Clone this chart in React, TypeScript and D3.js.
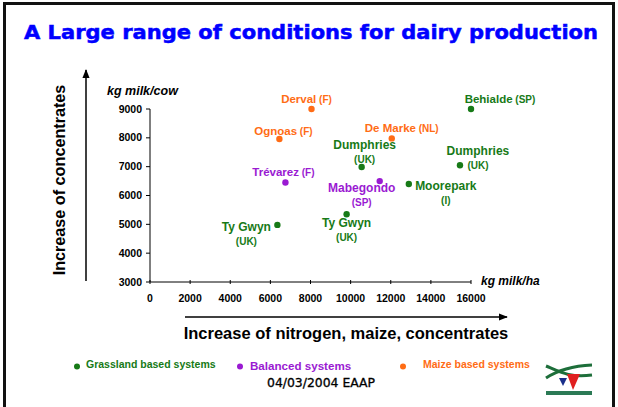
import * as d3 from 'd3';

const W = 618;
const H = 407;

// farms: name, country, system, kg milk/ha, kg milk/cow
const farmNames = ['Derval', 'Ognoas', 'Trévarez', 'Ty Gwyn', 'Behialde', 'De Marke', 'Dumphries', 'Dumphries', 'Mabegondo', 'Moorepark', 'Ty Gwyn'];
const farmCountries = ['(F)', '(F)', '(F)', '(UK)', '(SP)', '(NL)', '(UK)', '(UK)', '(SP)', '(I)', '(UK)'];
const farmSystems = ['maize', 'maize', 'balanced', 'grass', 'grass', 'maize', 'grass', 'grass', 'balanced', 'grass', 'grass'];
const milkPerHa = [8050, 6450, 6750, 6350, 16000, 12050, 10550, 15450, 11450, 12900, 9800];
const milkPerCow = [9000, 7960, 6450, 4980, 9000, 7980, 6990, 7050, 6500, 6400, 5350];

const xTicks = [0, 2000, 4000, 6000, 8000, 10000, 12000, 14000, 16000];
const yTicks = [3000, 4000, 5000, 6000, 7000, 8000, 9000];

const systemKeys = ['grass', 'balanced', 'maize'];
const systemLabels = ['Grassland based systems', 'Balanced systems', 'Maize based systems'];

// label placement relative to each point (px): dx, dy of first baseline, two lines?
const labelLayout: { dx: number; dy: number; split: boolean }[] = [
  { dx: -5, dy: -6, split: false },
  { dx: 4, dy: -4, split: false },
  { dx: -2, dy: -7, split: false },
  { dx: -31, dy: 6, split: true },
  { dx: 29, dy: -6, split: false },
  { dx: 10, dy: -6, split: false },
  { dx: 3, dy: -18, split: true },
  { dx: 18, dy: -10, split: true },
  { dx: -18, dy: 11, split: true },
  { dx: 37, dy: 6, split: true },
  { dx: 0, dy: 13, split: true },
];

const colors: Record<string, string> = {
  grass: '#177a17',
  balanced: '#9a1ad2',
  maize: '#ff6c15',
};

const sans = '"Liberation Sans", Arial, sans-serif';
const comic = '"Comic Sans MS", "DejaVu Sans", sans-serif';

export default function App() {
  const x = d3.scaleLinear().domain([0, 16000]).range([150, 471]);
  const y = d3.scaleLinear().domain([3000, 9000]).range([282, 109]);
  const legendX = d3.scalePoint<string>().domain(systemKeys).range([77, 403]);

  return (
    <svg width={W} height={H} style={{ position: 'absolute', left: 0, top: 0, background: '#fff' }}>
      <defs>
        <marker id="arr" viewBox="0 0 10 10" refX="9" refY="5" markerWidth="6" markerHeight="6" orient="auto">
          <path d="M0,1 L10,5 L0,9 Z" fill="#000" />
        </marker>
      </defs>
      <rect x={0} y={0} width={W} height={H} fill="#fff" />
      <path d="M4.5,412 V3.5 H613.5 V412" fill="none" stroke="#111" strokeWidth={3} />

      <text
        x={24}
        y={39}
        textLength={574}
        lengthAdjust="spacingAndGlyphs"
        fontFamily={comic}
        fontWeight="bold"
        fontSize={19.5}
        fill="#0000ff"
        stroke="#0000ff"
        strokeWidth={0.5}
      >
        A Large range of conditions for dairy production
      </text>

      {/* direction arrows */}
      <line x1={86} y1={281} x2={86} y2={70} stroke="#000" strokeWidth={1.5} markerEnd="url(#arr)" />
      <text
        transform="translate(65,180) rotate(-90)"
        textAnchor="middle"
        fontFamily={sans}
        fontWeight="bold"
        fontSize={16.2}
        fill="#000"
      >
        Increase of concentrates
      </text>
      <line x1={185} y1={317} x2={507} y2={317} stroke="#000" strokeWidth={1.5} markerEnd="url(#arr)" />
      <text x={346} y={339} textAnchor="middle" fontFamily={sans} fontWeight="bold" fontSize={16.5} fill="#000">
        Increase of nitrogen, maize, concentrates
      </text>

      {/* axes */}
      <line x1={x(0)} x2={x(0)} y1={y(3000)} y2={y(9000)} stroke="#000" strokeWidth={1} />
      <line x1={x(0)} x2={x(16000)} y1={y(3000)} y2={y(3000)} stroke="#000" strokeWidth={1} />
      {yTicks.map((t) => (
        <g key={'y' + t}>
          <line x1={x(0) - 4} x2={x(0)} y1={y(t)} y2={y(t)} stroke="#000" />
          <text x={x(0) - 8} y={y(t) + 3.5} textAnchor="end" fontFamily={sans} fontWeight="bold" fontSize={10.5}>
            {t}
          </text>
        </g>
      ))}
      {xTicks.map((t) => (
        <g key={'x' + t}>
          <line x1={x(t)} x2={x(t)} y1={y(3000) - 2} y2={y(3000) + 2} stroke="#000" />
          <text x={x(t)} y={302} textAnchor="middle" fontFamily={sans} fontWeight="bold" fontSize={10.5}>
            {t}
          </text>
        </g>
      ))}
      <text x={107} y={95} fontFamily={sans} fontWeight="bold" fontStyle="italic" fontSize={12.5}>
        kg milk/cow
      </text>
      <text x={481} y={285} fontFamily={sans} fontWeight="bold" fontStyle="italic" fontSize={12}>
        kg milk/ha
      </text>

      {/* farms */}
      {farmNames.map((name, i) => {
        const px = x(milkPerHa[i]);
        const py = y(milkPerCow[i]);
        const c = colors[farmSystems[i]];
        const L = labelLayout[i];
        return (
          <g key={i} fill={c} fontFamily={sans} fontWeight="bold">
            <circle cx={px} cy={py} r={3.2} />
            {L.split ? (
              <>
                <text x={px + L.dx} y={py + L.dy} textAnchor="middle" fontSize={12}>
                  {name}
                </text>
                <text x={px + L.dx} y={py + L.dy + 14} textAnchor="middle" fontSize={10}>
                  {farmCountries[i]}
                </text>
              </>
            ) : (
              <text x={px + L.dx} y={py + L.dy} textAnchor="middle" fontSize={11.5}>
                {name}
                <tspan fontSize={10}>{' ' + farmCountries[i]}</tspan>
              </text>
            )}
          </g>
        );
      })}

      {/* legend */}
      {systemKeys.map((k, i) => (
        <g key={k} fill={colors[k]} fontFamily={sans} fontWeight="bold">
          <circle cx={legendX(k)} cy={366.5} r={3} />
          <text
            x={(legendX(k) ?? 0) + (k === 'maize' ? 20 : k === 'balanced' ? 10 : 9)}
            y={k === 'balanced' ? 370 : 368}
            fontSize={k === 'balanced' ? 11.6 : 10.5}
          >
            {systemLabels[i]}
          </text>
        </g>
      ))}
      <text
        x={267}
        y={387}
        textLength={108}
        lengthAdjust="spacingAndGlyphs"
        fontFamily={comic}
        fontSize={12}
        fill="#000"
        stroke="#000"
        strokeWidth={0.3}
      >
        04/03/2004 EAAP
      </text>

      {/* logo */}
      <g>
        <path d="M546,366 C560,372 570,378 592,375" fill="none" stroke="#1d6e3a" strokeWidth={3} />
        <path d="M546,378 C558,370 572,366 592,365" fill="none" stroke="#1d6e3a" strokeWidth={3} />
        <path d="M559,378 L567,378 L563,386 Z" fill="#1a2f8a" />
        <path d="M567,374 L580,374 L573,390 Z" fill="#e02020" />
        <rect x={546} y={391} width={46} height={4} fill="#2b7a55" />
      </g>
    </svg>
  );
}
